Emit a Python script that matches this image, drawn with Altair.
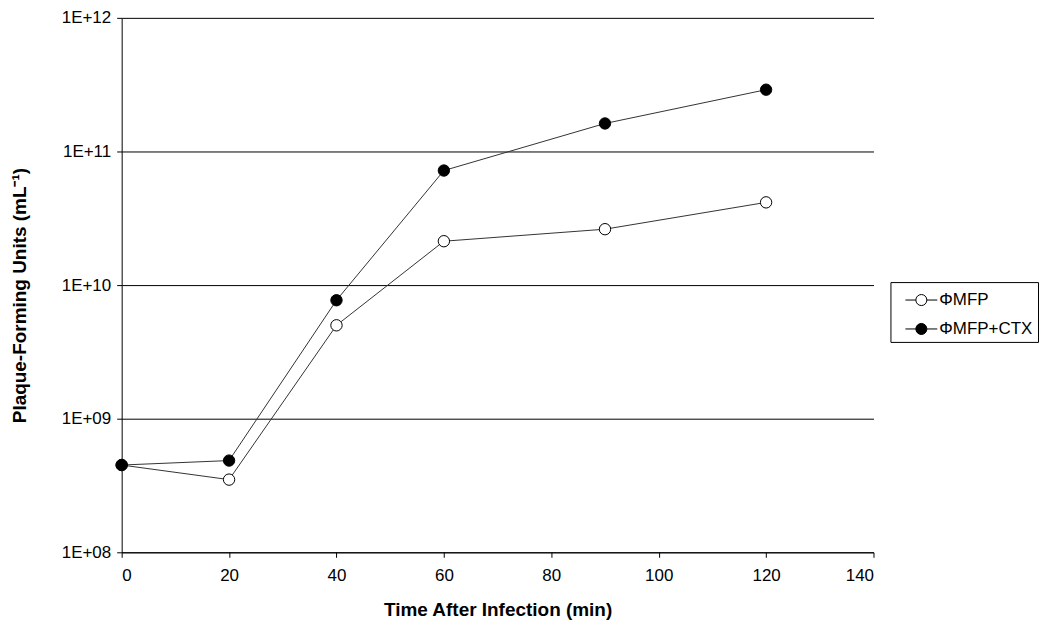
import altair as alt
import pandas as pd

times = [0, 20, 40, 60, 90, 120]
mfp = [4.5e8, 3.5e8, 5.0e9, 2.13e10, 2.62e10, 4.16e10]
mfp_ctx = [4.5e8, 4.86e8, 7.7e9, 7.2e10, 1.62e11, 2.9e11]
series_names = ["ΦMFP", "ΦMFP+CTX"]
x_ticks = [0, 20, 40, 60, 80, 100, 120, 140]
y_ticks = [1e8, 1e9, 1e10, 1e11, 1e12]

rows = []
for i, (s, vals) in enumerate(zip(series_names, [mfp, mfp_ctx])):
    for t, v in zip(times, vals):
        rows.append({"time": t, "pfu": v, "series": s, "order": i})
df = pd.DataFrame(rows)

FONT = "Liberation Sans"
common = dict(labelFont=FONT, titleFont=FONT, labelFontSize=17, titleFontSize=19,
              labelColor="black", titleColor="black", domainColor="black",
              tickColor="black", titleFontWeight="bold")

x = alt.X("time:Q", scale=alt.Scale(domain=[0, 140], nice=False),
          axis=alt.Axis(values=x_ticks, title="Time After Infection (min)", grid=False,
                        tickSize=5, labelPadding=10, titlePadding=17, **common))
y = alt.Y("pfu:Q", scale=alt.Scale(type="log", domain=[1e8, 1e12], nice=False),
          axis=alt.Axis(values=y_ticks, title="Plaque-Forming Units (mL⁻¹)", grid=True,
                        gridColor="black", gridOpacity=1, gridWidth=1,
                        labelExpr="'1E+' + format(round(log(datum.value)/LN10), '02d')",
                        tickSize=5, labelPadding=6, titlePadding=32, titleY=278,
                        **common))

line = alt.Chart(df).mark_line(color="#333333", strokeWidth=1).encode(
    x=x, y=y, detail="series:N"
)

legend_path = ("M-1.3,0L-0.45,0 M0.45,0 A0.45,0.45 0 1,1 -0.45,0 "
               "A0.45,0.45 0 1,1 0.45,0 M0.45,0L1.3,0")

points = alt.Chart(df).mark_point(filled=True, size=130, stroke="black", strokeWidth=1,
                                  opacity=1, shape="circle").encode(
    x=x, y=y,
    fill=alt.Fill("series:N",
                  scale=alt.Scale(domain=series_names, range=["white", "black"]),
                  legend=alt.Legend(title=None, orient="none", legendX=771, legendY=265,
                                    symbolType=legend_path, symbolSize=605,
                                    symbolStrokeColor="black", symbolStrokeWidth=1,
                                    labelFont=FONT, labelFontSize=17, labelColor="black",
                                    strokeColor="black", padding=5, rowPadding=8,
                                    labelOffset=5, symbolOffset=13)),
    order=alt.Order("order:Q"),
)

chart = alt.layer(line, points).properties(
    width=754, height=536,
    autosize=alt.AutoSizeParams(type="none"),
    padding={"left": 114, "top": 9, "right": 170, "bottom": 68},
).configure_view(stroke=None)

chart.save("out.html", embed_options={"renderer": "svg", "actions": False})
